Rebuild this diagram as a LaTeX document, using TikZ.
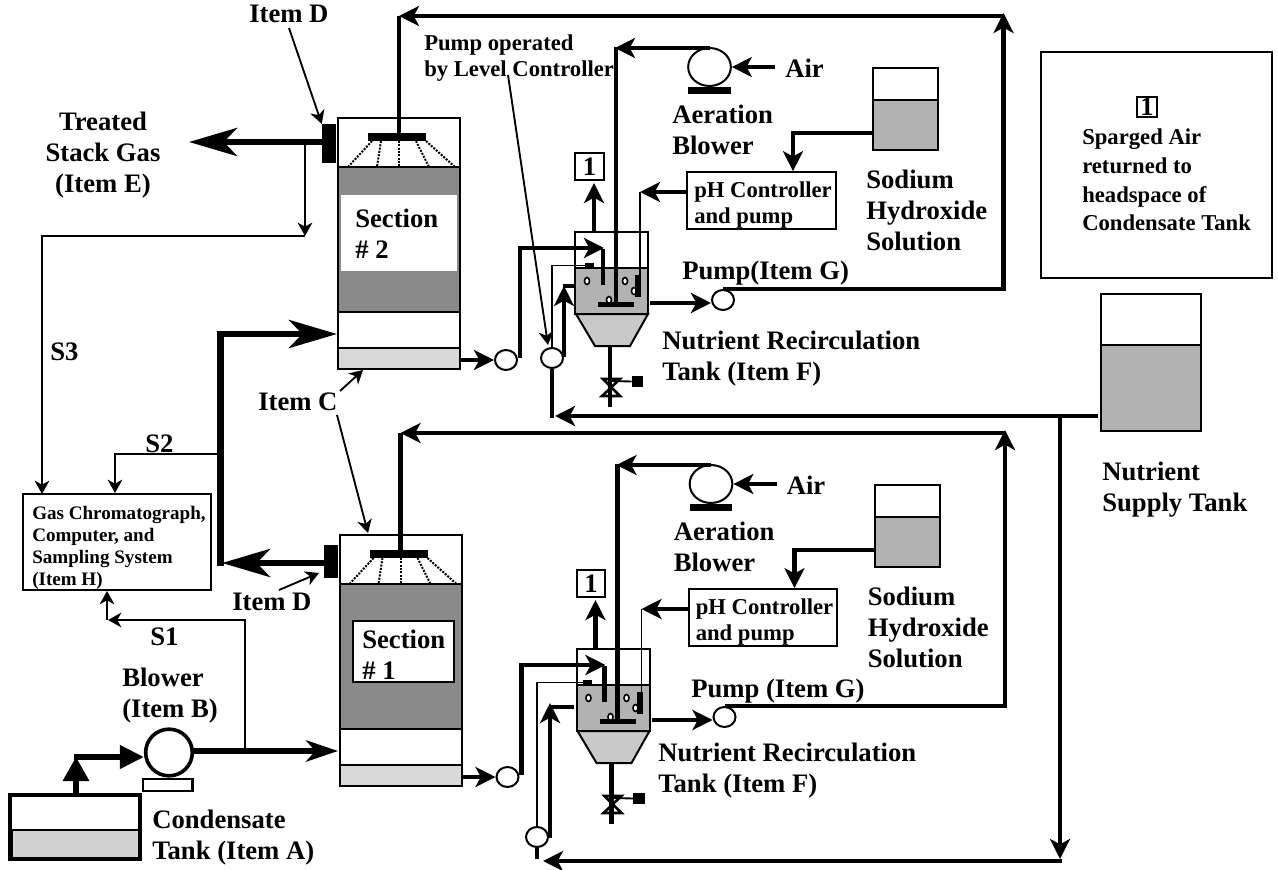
\documentclass[tikz,border=0pt]{standalone}
\usepackage{fontspec}
\setmainfont{Liberation Serif}
\usetikzlibrary{arrows.meta,shapes.geometric}
\colorlet{packfill}{gray!92}
\colorlet{liquidfill}{gray!60}
\colorlet{basefill}{gray!30}
\colorlet{hopperfill}{gray!42}
\tikzset{
  thinline/.style={line width=1.4pt},
  pipe/.style={line width=3.3pt},
  gaspipe/.style={line width=5pt},
  wall/.style={line width=1.5pt},
  thinarrow/.style={-{Stealth[length=10pt,width=11pt,inset=3pt]}},
  pipearrow/.style={-{Stealth[length=15pt,width=15pt,inset=4pt]}},
  gasarrow/.style={-{Stealth[length=36pt,width=21pt,inset=10pt]}},
  lbl/.style={font=\fontsize{20}{23.3}\selectfont\bfseries, align=left, anchor=west, inner sep=0pt},
  smalllbl/.style={font=\fontsize{17}{20}\selectfont\bfseries, align=left, anchor=west, inner sep=0pt},
  pumpnode/.style={draw, wall, ellipse, fill=white, inner sep=0pt, minimum width=16.5pt, minimum height=15pt},
  onebox/.style={draw, wall, inner sep=0pt, minimum width=21.5pt, minimum height=20pt, font=\fontsize{20}{20}\selectfont\bfseries},
  blackbox/.style={fill=black, inner sep=0pt}
}
\begin{document}
\begin{tikzpicture}[x=0.75pt,y=-0.75pt]
  \useasboundingbox (0,0) rectangle (1278,870);
  \foreach \ux/\uy/\un in {0/0/up,1.5/417/lo} {
    \begin{scope}[shift={(\ux,\uy)}]
      \filldraw[wall, fill=packfill] (338,167) rectangle (460,312);
      \draw[wall] (338,118) rectangle (460,167);
      \draw[wall] (338,312) rectangle (460,348);
      \filldraw[wall, fill=basefill] (338,348) rectangle (460,369);
      \node (sparg\un) [blackbox, minimum width=43.5pt, minimum height=6pt] at (397,137) {};
      \foreach \sa/\sb in {372/348,381/377,399/399,416/429,426/455}
        \draw[wall, densely dotted] (\sa,141) -- (\sb,167);
      % tank with hopper
      \filldraw[wall, fill=liquidfill] (575,268) rectangle (648,314);
      \draw[wall] (575,232) rectangle (648,268);
      \filldraw[wall, fill=hopperfill] (576,314) -- (648,314) -- (630,346) -- (595,346) -- cycle;
      \draw[line width=2.2pt] (575,314) -- (648,314);
      \foreach \bx/\by in {587/281,625/281,609/300,634/291}
        \draw[line width=1.2pt, fill=white] (\bx,\by) ellipse (2.5 and 3.5);
      \node (one\un) [onebox] at (589.5,166.5) {1};
      \coordinate (vent\un) at (594,232);
      \draw[pipe, pipearrow] (vent\un) -- ++(0,-49);
      % aeration
      \node (blow\un) [draw, wall, ellipse, inner sep=0pt, minimum width=32pt, minimum height=28.5pt] at (709.5,67) {};
      \node (blowbase\un) [blackbox, minimum width=32pt, minimum height=5pt] at (709.5,90.5) {};
      \node (air\un) [lbl] at (785,68) {Air};
      \coordinate (airin\un) at (775,67);
      \draw[pipe, pipearrow] (airin\un) -- (blow\un.east);
      \node (sparb\un) [blackbox, minimum width=27pt, minimum height=4pt] at (616,304.5) {};
      \coordinate (blowout\un) at (709.5,48);
      \coordinate (airtop\un) at (615,48);
      \draw[pipe, pipearrow] (blowout\un) -- (airtop\un);
      \draw[line width=3.4pt] (616,47) -- (616,304);
      \draw[line width=3.4pt] (603,249) -- (603,285);
      % caustic
      \filldraw[wall, fill=liquidfill] (873,100) rectangle (938,150);
      \draw[wall] (873,68) rectangle (938,100);
      \node (ph\un) [draw, wall, inner sep=0pt, minimum width=111.5pt, minimum height=42.5pt] at (761.5,200.5) {};
      \node (pht\un) [smalllbl] at (694,205) {pH Controller\\and pump};
      \coordinate (naoh\un) at (873,133);
      \draw[pipe, pipearrow] (naoh\un) -| (ph\un.north -| 793,0);
      \coordinate (probetop\un) at (640,192);
      \draw[pipe, pipearrow] (ph\un.west |- probetop\un) -- (probetop\un);
      \draw[thinline] (probetop\un) -- (640,275);
      \node (probe\un) [blackbox, minimum width=4.5pt, minimum height=16.5pt] at (638,286) {};
      % pumps and loops
      \node (pumpin\un) [pumpnode] at (506,360) {};
      \node (pumpg\un) [pumpnode] at (723,300) {};
      \coordinate (colout\un) at (461,360);
      \draw[pipe, pipearrow] (colout\un) -- (pumpin\un.west);
      \draw[pipe, pipearrow] (pumpin\un.east)+(2,-2) |- (604,248);
      \coordinate (tankout\un) at (650,303);
      \draw[pipe, pipearrow] (tankout\un) -- (tankout\un -| pumpg\un.west);
      \coordinate (ret\un) at (1003.5,16);
      \coordinate (top\un) at (399,16);
      \draw[pipe, pipearrow] (pumpg\un.north) -| (1003.5,13);
      \draw[pipe, pipearrow] (ret\un) -- (top\un);
      \draw[line width=3.4pt] (top\un) -- (top\un |- sparg\un.north);
      % drain valve
      \draw[line width=3.4pt] (610,346) -- (610,407);
      \draw[line width=1.9pt] (603,379) -- (620,379) -- (602,396) -- (620,396) -- cycle;
      \node (drain\un) [blackbox, minimum width=8.5pt, minimum height=8.5pt] at (637.5,381.5) {};
      \draw[thinline] (611,381) -- (drain\un.west);
      \node (blowtxt\un) [lbl] at (672,130) {Aeration\\Blower};
      \node (sodium\un) [lbl] at (866,210) {Sodium\\Hydroxide\\Solution};
    \end{scope}
  }
  % section labels
  \fill[white] (341,195) rectangle (457,271);
  \node (sectwo) [lbl] at (355,234) {Section\\\# 2};
  \filldraw[wall, fill=white] (353,621) rectangle (454,682);
  \node (secone) [lbl] at (362,655) {Section\\\# 1};
  % treated gas and sampling
  \node (itemdup) [blackbox, minimum width=10.5pt, minimum height=29pt] at (329,143.5) {};
  \node (itemdlo) [blackbox, minimum width=10.5pt, minimum height=25pt] at (331,561.5) {};
  \coordinate (stack) at (189,142);
  \draw[gaspipe, gasarrow] (stack -| itemdup.west) -- (stack);
  \node (gc) [draw, wall, inner sep=0pt, minimum width=141pt, minimum height=72pt] at (117,542) {};
  \node (gctext) [font=\fontsize{14.3}{16.3}\selectfont\bfseries, align=left, anchor=west, inner sep=0pt] at (32,548) {Gas Chromatograph,\\Computer, and\\Sampling System\\(Item H)};
  \coordinate (tapthree) at (305,142);
  \coordinate (sthree) at (305,236);
  \draw[thinline, thinarrow] (tapthree) -- (sthree);
  \draw[thinline, thinarrow] (sthree) -| (42,494);
  \coordinate (taptwo) at (220,454);
  \draw[thinline, thinarrow] (taptwo) -| (115,493);
  \draw[line width=5.4pt] (220.5,331) -- (220.5,565.5);
  \draw[gaspipe, gasarrow] (218,334) -- (337,334);
  \coordinate (gasleft) at (222,563);
  \draw[gaspipe, gasarrow] (gasleft -| itemdlo.west) -- (gasleft);
  % blower and condensate
  \node (blowb) [draw, line width=2.7pt, circle, inner sep=0pt, minimum size=35pt] at (169,752.5) {};
  \node (blowbase) [draw, line width=2pt, inner sep=0pt, minimum width=37pt, minimum height=9pt] at (167.5,785) {};
  \filldraw[line width=0pt, fill=gray!35] (12,830) rectangle (138,858);
  \draw[line width=2pt] (12,830) -- (138,830);
  \draw[line width=3pt] (9.5,794.5) rectangle (140,859);
  \coordinate (cond) at (76,793);
  \coordinate (condtop) at (76,757);
  \draw[line width=4pt, -{Triangle[length=18pt,width=19pt]}] (cond) -- (condtop);
  \draw[line width=4pt, -{Triangle[length=18pt,width=17pt]}] (74,757) -- (blowb.west |- condtop);
  \coordinate (blowbout) at (194,751);
  \draw[line width=4pt, -{Stealth[length=24pt,width=16pt,inset=7pt]}] (blowbout) -- (338,751);
  \coordinate (tapone) at (245,751);
  \draw[thinline, thinarrow] (tapone) |- (108,620);
  \draw[thinline, thinarrow] (107,620) -- (gc.south -| 107,0);
  % supply tank and feed
  \filldraw[wall, fill=liquidfill] (1101,345) rectangle (1201,431);
  \draw[wall] (1101,294) rectangle (1201,345);
  \coordinate (feed) at (1098,416);
  \node (pumpa) [pumpnode] at (552,358) {};
  \node (pumpb) [pumpnode] at (537,837) {};
  \draw[pipe, pipearrow] (feed) -- (555,416);
  \draw[pipe] (pumpa.south) -- (552,417.5);
  \draw[pipe, pipearrow] (1060,416) -- (1060,859);
  \draw[pipe, pipearrow] (1061.5,861) -- (543,861);
  \draw[pipe] (pumpb.south) -- ++(0,11);
  \node (lcup) [blackbox, minimum width=7pt, minimum height=4pt] at (589.5,265.5) {};
  \node (lclo) [blackbox, minimum width=7pt, minimum height=4pt] at (587.5,682.5) {};
  \draw[thinline] (pumpa.north) |- (lcup.west);
  \draw[thinline] (pumpb.north) |- (lclo.west);
  \draw[pipe, pipearrow] (564,357) -- (564,286);
  \draw[pipe] (562.5,286) -- (575,286);
  \draw[pipe, pipearrow] (550,838) -- (550,703);
  \draw[pipe] (548.5,707) -- (574,707);
  % legend
  \draw[wall] (1041,52) rectangle (1272,278);
  \node (legone) [onebox, minimum width=15pt, minimum height=15pt] at (1147,107) {1};
  \node (legtext) [smalllbl, font=\fontsize{17}{21.5}\selectfont\bfseries] at (1082,180) {Sparged Air\\returned to\\headspace of\\Condensate Tank};
  % labels
  \node (itemdtop) [lbl] at (249,14) {Item D};
  \node (treated) [lbl, align=center, anchor=center] at (103,155) {Treated\\Stack Gas\\(Item E)};
  \node (pumpop) [smalllbl] at (424,58) {Pump operated\\by Level Controller};
  \node (pumpgup) [lbl] at (682,273) {Pump(Item G)};
  \node (pumpglo) [lbl] at (691,691) {Pump (Item G)};
  \node (nutup) [lbl] at (662,359) {Nutrient Recirculation\\Tank (Item F)};
  \node (nutlo) [lbl] at (658,771) {Nutrient Recirculation\\Tank (Item F)};
  \node (supply) [lbl] at (1102,490) {Nutrient\\Supply Tank};
  \node (sthreetxt) [lbl] at (50,352) {S3};
  \node (stwotxt) [lbl] at (145,444) {S2};
  \node (sonetxt) [lbl] at (150,637) {S1};
  \node (itemc) [lbl] at (258,402) {Item C};
  \node (itemdbot) [lbl] at (232,602) {Item D};
  \node (blowerb) [lbl] at (122,696) {Blower\\(Item B)};
  \node (condtxt) [lbl] at (152,838) {Condensate\\Tank (Item A)};
  % pointers
  \draw[thinline, thinarrow] (289,28) -- (itemdup.north west);
  \draw[thinline, thinarrow] (279,590) -- (319,573);
  \draw[thinline, thinarrow] (340,391) -- (363,370);
  \draw[thinline, thinarrow] (337,415) -- (368,533);
  \draw[thinline, thinarrow] (508,75) -- (548,345);
\end{tikzpicture}
\end{document}
